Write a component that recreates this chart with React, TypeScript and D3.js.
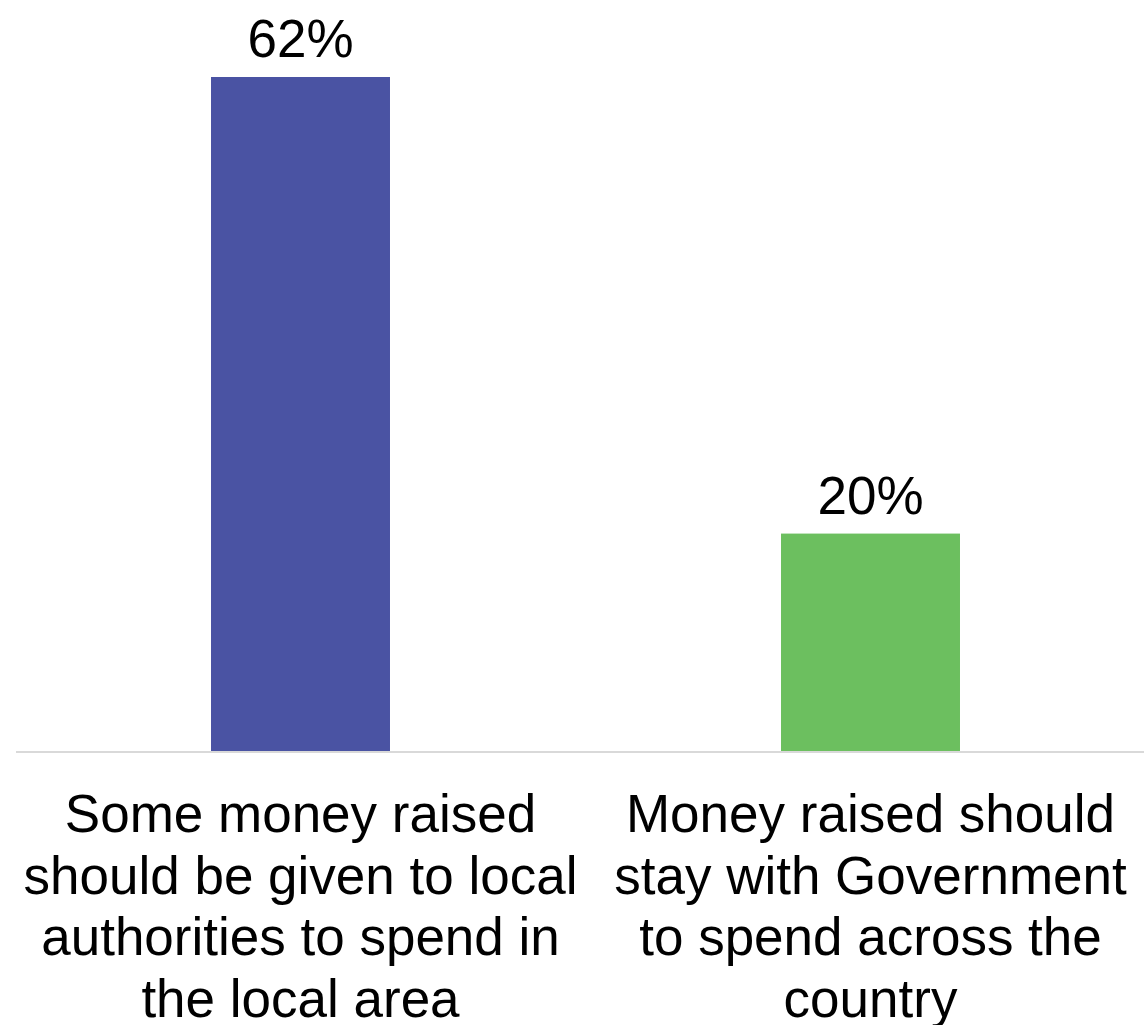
import React from "react";
import * as d3 from "d3";

const categories: string[] = [
  "Some money raised\nshould be given to local\nauthorities to spend in\nthe local area",
  "Money raised should\nstay with Government\nto spend across the\ncountry",
];
const values: number[] = [62, 20];
const valueLabels: string[] = ["62%", "20%"];
const colors: string[] = ["#4a53a3", "#6cbf5f"];

const W = 1144;
const H = 1025;
const FONT = "'Liberation Sans', Arial, Helvetica, sans-serif";

export default function App() {
  const x = d3
    .scaleBand<string>()
    .domain(categories)
    .range([15.5, 1155.5])
    .paddingInner(0.686)
    .paddingOuter(0.343);
  const y = d3.scaleLinear().domain([0, 62]).range([751, 77]);

  return (
    <svg
      width={W}
      height={H}
      viewBox={`0 0 ${W} ${H}`}
      style={{ position: "absolute", left: 0, top: 0, background: "#fff" }}
      fontFamily={FONT}
    >
      <rect x={0} y={0} width={W} height={H} fill="#fff" />
      {categories.map((c, i) => {
        const bx = x(c) as number;
        return (
          <g key={c}>
            <rect
              x={bx}
              y={y(values[i])}
              width={x.bandwidth()}
              height={y(0) - y(values[i])}
              fill={colors[i]}
            />
            <text
              x={bx + x.bandwidth() / 2}
              y={y(values[i]) - 20}
              textAnchor="middle"
              fontSize={53}
              fill="#000"
            >
              {valueLabels[i]}
            </text>
          </g>
        );
      })}
      <line x1={16} x2={W} y1={752} y2={752} stroke="#d9d9d9" strokeWidth={2} />
      {categories.map((c) => {
        const cx = (x(c) as number) + x.bandwidth() / 2;
        return (
          <text key={c} textAnchor="middle" fontSize={53} fill="#000">
            {c.split("\n").map((line, j) => (
              <tspan key={j} x={cx} y={832 + j * 61.5}>
                {line}
              </tspan>
            ))}
          </text>
        );
      })}
    </svg>
  );
}
